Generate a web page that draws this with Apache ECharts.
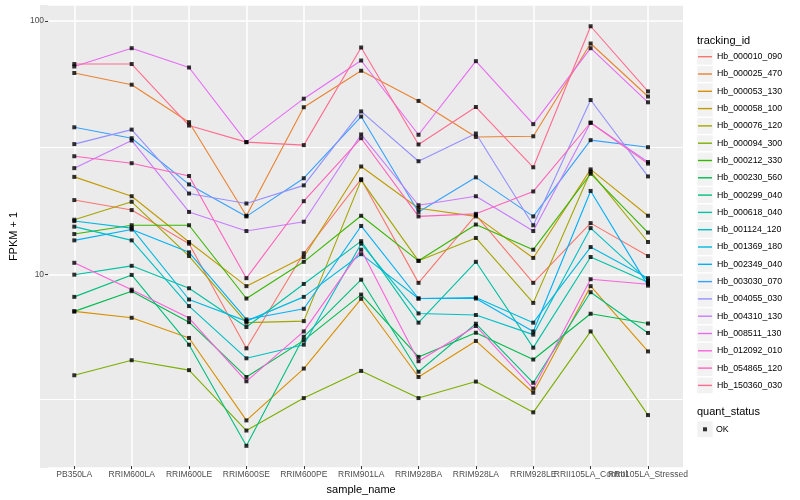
<!DOCTYPE html>
<html><head><meta charset="utf-8">
<script src="https://cdn.jsdelivr.net/npm/echarts@6/dist/echarts.min.js"></script>
<style>html,body{margin:0;padding:0;background:#fff}#c{width:800px;height:500px}</style>
</head><body><div id="c"></div>
<script>
const categories = ['PB350LA','RRIM600LA','RRIM600LE','RRIM600SE','RRIM600PE','RRIM901LA','RRIM928BA','RRIM928LA','RRIM928LE','RRII105LA_Control','RRII105LA_Stressed'];
const trackingIds = ['Hb_000010_090','Hb_000025_470','Hb_000053_130','Hb_000058_100','Hb_000076_120','Hb_000094_300','Hb_000212_330','Hb_000230_560','Hb_000299_040','Hb_000618_040','Hb_001124_120','Hb_001369_180','Hb_002349_040','Hb_003030_070','Hb_004055_030','Hb_004310_130','Hb_008511_130','Hb_012092_010','Hb_054865_120','Hb_150360_030'];
const colors = ['#F8766D','#EA8331','#D89000','#C09B00','#A3A500','#7CAE00','#39B600','#00BB4E','#00BF7D','#00C1A3','#00BFC4','#00BAE0','#00B0F6','#35A2FF','#9590FF','#C77CFF','#E76BF3','#FA62DB','#FF62BC','#FF6C91'];
const yTickLabels = [10, 100];
const yMinorTicks = [3.1623, 31.623];

const hb_000010_090 = [19.5, 17.8, 13.1, 5.04, 12.0, 23.6, 9.16, 17.0, 9.16, 15.8, 11.7];
const hb_000025_470 = [62.2, 55.9, 39.7, 16.9, 45.5, 63.5, 48.2, 34.7, 34.9, 81.4, 50.2];
const hb_000053_130 = [7.06, 6.66, 5.54, 2.61, 4.19, 7.92, 3.88, 5.39, 3.36, 8.89, 4.90];
const hb_000058_100 = [24.1, 20.2, 13.3, 8.89, 11.6, 26.5, 18.1, 16.8, 11.5, 25.8, 16.9];
const hb_000076_120 = [16.3, 19.2, 11.7, 6.37, 6.46, 23.4, 11.2, 13.8, 7.63, 25.3, 13.3];
const hb_000094_300 = [3.94, 4.52, 4.13, 2.38, 3.20, 4.10, 3.20, 3.72, 2.81, 5.88, 2.74];
const hb_000212_330 = [14.3, 15.5, 15.5, 7.94, 11.1, 16.9, 11.2, 15.6, 12.4, 24.8, 14.5];
const hb_000230_560 = [7.06, 8.49, 6.40, 3.88, 5.42, 8.23, 4.66, 5.81, 4.55, 6.91, 6.32];
const hb_000299_040 = [8.06, 9.85, 5.21, 2.07, 5.60, 9.43, 4.07, 6.31, 3.68, 8.41, 5.80];
const hb_000618_040 = [9.87, 10.7, 8.72, 6.12, 9.07, 13.4, 6.37, 11.1, 5.07, 11.6, 9.21];
const hb_001124_120 = [15.3, 13.5, 7.41, 4.60, 5.21, 13.1, 6.93, 6.83, 5.71, 15.1, 9.35];
const hb_001369_180 = [16.1, 15.1, 7.87, 6.46, 8.06, 11.9, 7.94, 8.01, 6.37, 12.7, 9.56];
const hb_002349_040 = [13.5, 14.9, 12.1, 6.56, 7.23, 15.4, 7.94, 7.94, 5.88, 21.2, 8.93];
const hb_003030_070 = [37.9, 34.3, 22.5, 16.8, 23.8, 41.8, 17.5, 24.0, 16.8, 33.7, 31.6];
const hb_004055_030 = [32.5, 37.1, 20.7, 18.9, 22.3, 43.8, 27.8, 35.8, 15.5, 48.6, 24.2];
const hb_004310_130 = [26.1, 33.6, 17.5, 14.7, 16.0, 35.5, 18.6, 20.2, 14.7, 39.5, 27.6];
const hb_008511_130 = [66.0, 78.0, 65.4, 33.1, 49.2, 69.7, 35.4, 69.3, 39.0, 78.0, 47.6];
const hb_012092_010 = [11.0, 8.61, 6.64, 3.73, 5.88, 12.4, 4.48, 6.18, 3.49, 9.47, 9.05];
const hb_054865_120 = [29.1, 27.3, 24.3, 9.56, 19.3, 34.3, 16.8, 17.2, 21.1, 39.5, 27.2];
const hb_150360_030 = [67.5, 67.5, 38.5, 33.1, 32.2, 78.5, 32.4, 45.6, 26.3, 95.3, 52.6];

const seriesValues = [hb_000010_090, hb_000025_470, hb_000053_130, hb_000058_100, hb_000076_120,
  hb_000094_300, hb_000212_330, hb_000230_560, hb_000299_040, hb_000618_040, hb_001124_120,
  hb_001369_180, hb_002349_040, hb_003030_070, hb_004055_030, hb_004310_130, hb_008511_130,
  hb_012092_010, hb_054865_120, hb_150360_030];

const FONT = '"Liberation Sans", Arial, sans-serif';
const yMin = 1.72, yMax = 115.7;
const chart = echarts.init(document.getElementById('c'), null, {renderer: 'canvas'});

const series = [];
trackingIds.forEach((id, i) => series.push({
  name: id, type: 'line', xAxisIndex: 0, yAxisIndex: 0, data: seriesValues[i],
  symbol: 'none', showSymbol: false, clip: false, silent: true, z: 2,
  lineStyle: {color: colors[i], width: 1.1}, itemStyle: {color: colors[i]}
}));
const pts = [];
seriesValues.forEach(arr => arr.forEach((v, j) => pts.push([j, v])));
series.push({name: 'OK', type: 'scatter', xAxisIndex: 0, yAxisIndex: 0, data: pts,
  symbol: 'rect', symbolSize: 4, itemStyle: {color: '#000'}, clip: false, silent: true, z: 3});

const graphics = [{type: 'rect', z: -100, silent: true, shape: {x: 40, y: 5, width: 643, height: 463}, style: {fill: '#EBEBEB'}}];
trackingIds.forEach((id, i) => graphics.push({type: 'rect', z: -100, silent: true,
  shape: {x: 697.3, y: 56.7 + i * 17.3 - 7.9, width: 15.4, height: 15.8}, style: {fill: '#F2F2F2'}}));
graphics.push({type: 'rect', z: -100, silent: true, shape: {x: 697.3, y: 429.3 - 7.9, width: 15.4, height: 15.8}, style: {fill: '#F2F2F2'}});
graphics.push({type: 'text', x: 697, y: 40.7, silent: true, style: {text: 'tracking_id', fill: '#000', fontSize: 11, fontFamily: FONT, verticalAlign: 'middle'}});
graphics.push({type: 'text', x: 697, y: 412.3, silent: true, style: {text: 'quant_status', fill: '#000', fontSize: 11, fontFamily: FONT, verticalAlign: 'middle'}});

const option = {
  animation: false,
  textStyle: {fontFamily: FONT},
  grid: [
    {left: 74.3, right: 152, top: 5, bottom: 32},
    {left: 40, right: 117, top: 5, bottom: 32}
  ],
  xAxis: [
    {type: 'category', gridIndex: 0, data: categories, boundaryGap: false,
      axisLine: {show: false},
      axisTick: {show: true, length: 3, lineStyle: {color: '#333', width: 1}},
      axisLabel: {interval: 0, hideOverlap: false, color: '#4D4D4D', fontSize: 8.5, fontFamily: FONT, margin: 4},
      splitLine: {show: true, lineStyle: {color: '#fff', width: 1.5}},
      name: 'sample_name', nameLocation: 'middle', nameGap: 14,
      nameTextStyle: {color: '#000', fontSize: 11, fontFamily: FONT}},
    {type: 'value', gridIndex: 1, show: false, min: 0, max: 1}
  ],
  yAxis: [
    {type: 'log', gridIndex: 0, min: yMin, max: yMax, show: false, splitLine: {show: false}},
    {type: 'log', gridIndex: 1, min: yMin, max: yMax,
      axisLine: {show: false},
      axisTick: {show: true, length: 3, lineStyle: {color: '#333', width: 1}},
      axisLabel: {color: '#4D4D4D', fontSize: 8.5, fontFamily: FONT, margin: 4, showMinLabel: false, showMaxLabel: false,
        formatter: v => (yTickLabels.indexOf(Math.round(v)) >= 0 && Math.abs(v - Math.round(v)) < 1e-6) ? String(Math.round(v)) : ''},
      splitLine: {show: true, lineStyle: {color: '#fff', width: 1.5}},
      name: 'FPKM + 1', nameLocation: 'middle', nameGap: 23,
      nameTextStyle: {color: '#000', fontSize: 11, fontFamily: FONT}}
  ],
  legend: [
    {data: trackingIds, orient: 'vertical', left: 698, top: 48.05, padding: 0,
      itemWidth: 14, itemHeight: 1.4, itemGap: 0, icon: 'rect', selectedMode: false,
      textStyle: {fontSize: 8.8, fontFamily: FONT, color: '#000', lineHeight: 17.3}},
    {data: ['OK'], orient: 'vertical', left: 703, top: 420.65, padding: 0,
      itemWidth: 4, itemHeight: 4, itemGap: 0, icon: 'rect', selectedMode: false,
      textStyle: {fontSize: 8.8, fontFamily: FONT, color: '#000', lineHeight: 17.3, padding: [0, 0, 0, 4]}}
  ],
  graphic: graphics,
  series: series
};
chart.setOption(option);

// minor horizontal grid lines, positioned through the y scale of the chart
const minorLines = [];
yMinorTicks.forEach(v => {
  let py = chart.convertToPixel({yAxisIndex: 0}, v);
  if (typeof py !== 'number' || !isFinite(py)) {
    py = chart.convertToPixel({gridIndex: 0}, [0, v]);
    py = Array.isArray(py) ? py[1] : NaN;
  }
  if (isFinite(py)) {
    const y = Math.round(py - 0.5) + 0.5;
    minorLines.push({type: 'line', z: -50, silent: true,
      shape: {x1: 40, y1: y, x2: 683, y2: y}, style: {stroke: '#ffffff', lineWidth: 1}});
  }
});
chart.setOption({graphic: graphics.concat(minorLines)});
</script></body></html>
